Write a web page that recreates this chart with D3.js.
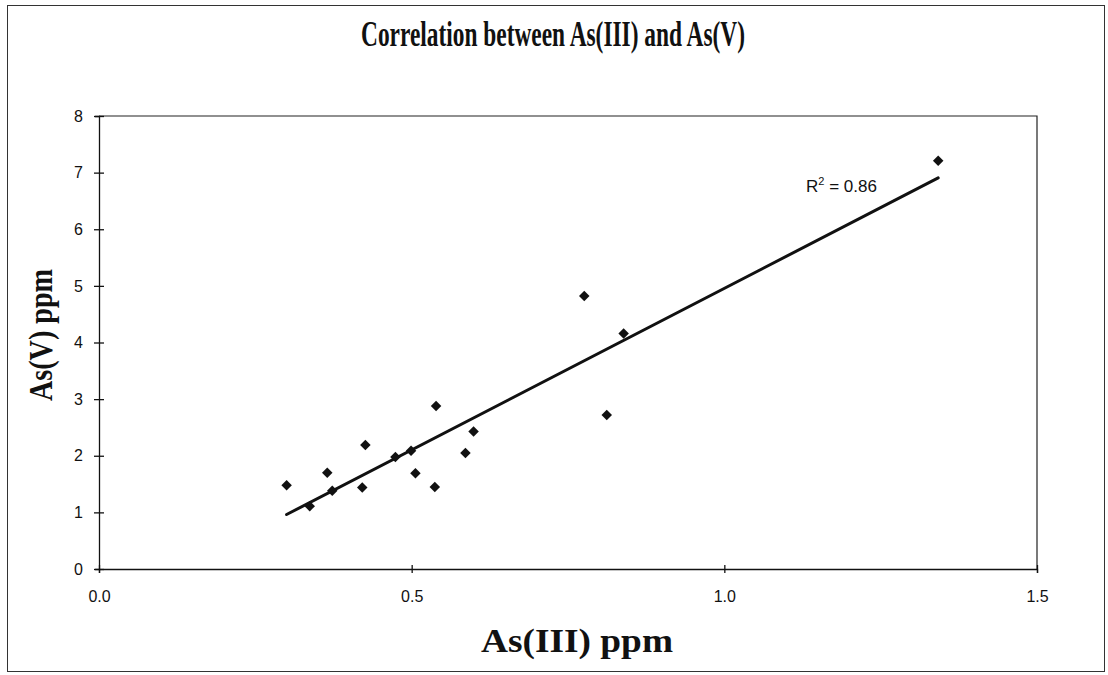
<!DOCTYPE html>
<html>
<head>
<meta charset="utf-8">
<script src="https://cdn.jsdelivr.net/npm/d3@7"></script>
<style>
  body { margin: 0; background: #fff; }
</style>
</head>
<body>
<script>
var w = 1108,
    h = 675;

// As(III) ppm readings
var asIII = [0.300, 0.337, 0.365, 0.373, 0.421, 0.426, 0.474, 0.499, 0.506,
             0.537, 0.539, 0.586, 0.599, 0.776, 0.812, 0.839, 1.342];
// As(V) ppm readings
var asV = [1.48, 1.11, 1.70, 1.38, 1.44, 2.19, 1.98, 2.09, 1.69,
           1.45, 2.88, 2.05, 2.43, 4.82, 2.72, 4.16, 7.21];

var xTicks = [0, 0.5, 1.0, 1.5];
var yTicks = [0, 1, 2, 3, 4, 5, 6, 7, 8];

// value printed on the chart
var rSquared = 0.86;

var margin = {left: 99, right: 1037, top: 116, bottom: 569};

var svg = d3.select('body')
            .append('svg')
            .attr('width', w)
            .attr('height', h);

// outer chart frame
svg.append('rect')
   .attr('x', 7.5)
   .attr('y', 5.5)
   .attr('width', 1097)
   .attr('height', 666)
   .style('fill', 'none')
   .style('stroke', '#333')
   .style('stroke-width', 1);

var x = d3.scaleLinear()
          .domain([0, 1.5])
          .range([margin.left, margin.right]);

var y = d3.scaleLinear()
          .domain([0, 8])
          .range([margin.bottom, margin.top]);

// plot area box (top and right edges)
svg.append('path')
   .attr('d', 'M' + x(0) + ',' + y(8) + 'H' + x(1.5) + 'V' + y(0))
   .style('fill', 'none')
   .style('stroke', '#222')
   .style('stroke-width', 1.2);

var xAxis = svg.append('g')
               .attr('transform', 'translate(0,' + y(0) + ')')
               .attr('font-size', 16)
               .call(d3.axisBottom(x)
                       .tickValues(xTicks)
                       .tickFormat(d3.format('.1f'))
                       .tickSizeOuter(0)
                       .tickSize(4)
                       .tickPadding(18));

var yAxis = svg.append('g')
               .attr('transform', 'translate(' + x(0) + ',0)')
               .call(d3.axisLeft(y)
                       .tickValues(yTicks)
                       .tickFormat(d3.format('d'))
                       .tickSizeOuter(0)
                       .tickSize(4)
                       .tickPadding(12));

// cross-style ticks, like the spreadsheet chart
xAxis.selectAll('.tick line').attr('y1', -4).attr('y2', 4);
yAxis.selectAll('.tick line').attr('x1', -5).attr('x2', 5);
svg.selectAll('.domain, .tick line').style('stroke', '#111').style('stroke-width', 1.3);
xAxis.attr('font-size', 16).attr('font-family', 'Arial, "Liberation Sans", sans-serif');
yAxis.attr('font-size', 16).attr('font-family', 'Arial, "Liberation Sans", sans-serif');
svg.selectAll('.tick text').style('fill', '#111');

// least squares trendline
var n = asIII.length,
    mx = d3.mean(asIII),
    my = d3.mean(asV);
var sxy = 0, sxx = 0;
for (var i = 0; i < n; i++) {
  sxy += (asIII[i] - mx) * (asV[i] - my);
  sxx += (asIII[i] - mx) * (asIII[i] - mx);
}
var slope = sxy / sxx,
    intercept = my - slope * mx;

var xs = d3.extent(asIII);
svg.append('line')
   .attr('x1', x(xs[0]))
   .attr('y1', y(intercept + slope * xs[0]))
   .attr('x2', x(xs[1]))
   .attr('y2', y(intercept + slope * xs[1]))
   .style('stroke', '#111')
   .style('stroke-width', 3)
   .style('stroke-linecap', 'round');

// points as diamonds
var points = asIII.map(function(d, i) { return {x: d, y: asV[i]}; });
svg.selectAll('path.pt')
   .data(points)
   .enter()
   .append('path')
   .attr('class', 'pt')
   .attr('d', d3.symbol().type(d3.symbolSquare).size(55))
   .attr('transform', function(d) {
      return 'translate(' + x(d.x) + ',' + y(d.y) + ') rotate(45)';
    })
   .style('fill', '#111');

// R squared label
var rt = svg.append('text')
            .attr('x', 806)
            .attr('y', 192)
            .style('font-family', 'Arial, "Liberation Sans", sans-serif')
            .style('font-size', '17px')
            .style('fill', '#111');
rt.append('tspan').text('R');
rt.append('tspan').attr('dy', -7).style('font-size', '11px').text('2');
rt.append('tspan').attr('dy', 7).text(' = ' + d3.format('.2f')(rSquared));

// title and axis titles
svg.append('text')
   .attr('x', 553)
   .attr('y', 46)
   .attr('text-anchor', 'middle')
   .attr('textLength', 384)
   .attr('lengthAdjust', 'spacingAndGlyphs')
   .style('font-family', '"Liberation Serif", "Times New Roman", serif')
   .style('font-weight', 'bold')
   .style('font-size', '35px')
   .style('fill', '#111')
   .text('Correlation between As(III) and As(V)');

svg.append('text')
   .attr('x', 577)
   .attr('y', 652)
   .attr('text-anchor', 'middle')
   .attr('textLength', 192)
   .attr('lengthAdjust', 'spacingAndGlyphs')
   .style('font-family', '"Liberation Serif", "Times New Roman", serif')
   .style('font-weight', 'bold')
   .style('font-size', '33px')
   .style('fill', '#111')
   .text('As(III) ppm');

svg.append('text')
   .attr('transform', 'translate(52,335) rotate(-90)')
   .attr('text-anchor', 'middle')
   .attr('textLength', 132)
   .attr('lengthAdjust', 'spacingAndGlyphs')
   .style('font-family', '"Liberation Serif", "Times New Roman", serif')
   .style('font-weight', 'bold')
   .style('font-size', '33px')
   .style('fill', '#111')
   .text('As(V) ppm');
</script>
</body>
</html>
